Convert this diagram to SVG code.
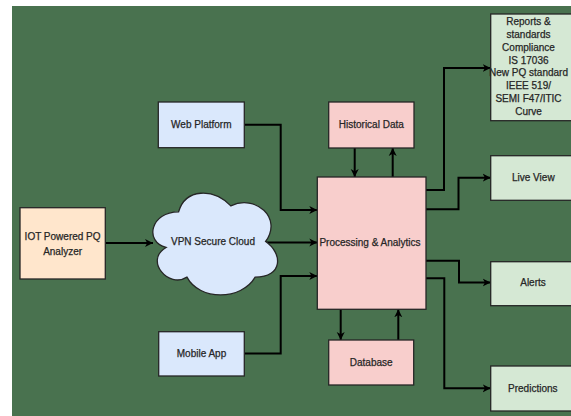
<svg xmlns="http://www.w3.org/2000/svg" width="571" height="416" viewBox="0 0 571 416">
  <style>
    .box { stroke: #262626; stroke-width: 1.3; }
    .blue { fill: #dae8fc; }
    .peach { fill: #ffe6cc; }
    .pink { fill: #f8cecc; }
    .green { fill: #d5e8d4; }
    .lbl { font-family: "Liberation Sans", Arial, sans-serif; font-size: 10px; fill: #262626; stroke: #262626; stroke-width: 0.25; text-anchor: middle; }
    .wire { fill: none; stroke: #000; stroke-width: 2; }
  </style>
  <defs>
    <marker id="arrow" markerUnits="userSpaceOnUse" markerWidth="9" markerHeight="9" refX="8" refY="4.5" orient="auto">
      <path d="M0,0.5 L8,4.5 L0,8.5 L2.2,4.5 Z" fill="#000"/>
    </marker>
  </defs>

  <!-- canvas -->
  <rect x="0" y="0" width="571" height="416" fill="#ffffff"/>
  <rect x="12" y="6" width="559" height="410" fill="#49724f"/>

  <!-- connectors -->
  <g id="connectors">
    <path class="wire" d="M105.3,243 L153,243" marker-end="url(#arrow)"/>
    <path class="wire" d="M265.6,242.5 L317.3,242.5" marker-end="url(#arrow)"/>
    <path class="wire" d="M244.3,124.7 L280.7,124.7 L280.7,210 L317.3,210" marker-end="url(#arrow)"/>
    <path class="wire" d="M244.3,353.5 L280.7,353.5 L280.7,276 L317.3,276" marker-end="url(#arrow)"/>
    <path class="wire" d="M354.7,148 L354.7,177" marker-end="url(#arrow)"/>
    <path class="wire" d="M392.7,177 L392.7,148" marker-end="url(#arrow)"/>
    <path class="wire" d="M340.7,309.3 L340.7,340" marker-end="url(#arrow)"/>
    <path class="wire" d="M398.3,340 L398.3,309.3" marker-end="url(#arrow)"/>
    <path class="wire" d="M426,190 L444,190 L444,68 L490.7,68" marker-end="url(#arrow)"/>
    <path class="wire" d="M426,209.3 L458.5,209.3 L458.5,177.7 L490.7,177.7" marker-end="url(#arrow)"/>
    <path class="wire" d="M426,260.7 L459,260.7 L459,282.5 L490.7,282.5" marker-end="url(#arrow)"/>
    <path class="wire" d="M426,278.3 L444.3,278.3 L444.3,388.3 L490.7,388.3" marker-end="url(#arrow)"/>
  </g>

  <!-- sources -->
  <g id="iot-analyzer">
    <rect class="box peach" x="20" y="207.7" width="85.3" height="71.3"/>
    <text class="lbl" x="62.6" y="240.2">IOT Powered PQ</text>
    <text class="lbl" x="62.6" y="254.5">Analyzer</text>
  </g>
  <g id="vpn-cloud">
    <path class="box blue" d="M178.6,211.8 C150.76,211.8 143.8,241.5 166.07,247.44 C143.8,260.51 168.86,289.02 186.95,277.14 C199.48,300.9 241.24,300.9 255.16,277.14 C283,277.14 283,253.38 265.6,241.5 C283,217.74 255.16,193.98 230.8,205.86 C213.4,188.04 185.56,188.04 178.6,211.8 Z"/>
    <text class="lbl" x="213" y="245.2">VPN Secure Cloud</text>
  </g>
  <g id="web-platform">
    <rect class="box blue" x="158.3" y="102" width="86" height="45.7"/>
    <text class="lbl" x="201.3" y="128">Web Platform</text>
  </g>
  <g id="mobile-app">
    <rect class="box blue" x="158.7" y="331.7" width="85.6" height="44.3"/>
    <text class="lbl" x="201.5" y="357.3">Mobile App</text>
  </g>

  <!-- core -->
  <g id="historical-data">
    <rect class="box pink" x="328.7" y="102" width="85.3" height="46"/>
    <text class="lbl" x="371.3" y="128">Historical Data</text>
  </g>
  <g id="processing">
    <rect class="box pink" x="317.3" y="177" width="108.7" height="132.3"/>
    <text class="lbl" x="370" y="245.8">Processing &amp; Analytics</text>
  </g>
  <g id="database">
    <rect class="box pink" x="328.7" y="340" width="85" height="45"/>
    <text class="lbl" x="371.2" y="365.5">Database</text>
  </g>

  <!-- outputs -->
  <g id="reports">
    <rect class="box green" x="490.7" y="14" width="90" height="106.7"/>
    <text class="lbl" x="528.5" y="25.2">Reports &amp;</text>
    <text class="lbl" x="528.5" y="38">standards</text>
    <text class="lbl" x="528.5" y="50.8">Compliance</text>
    <text class="lbl" x="528.5" y="63.6">IS 17036</text>
    <text class="lbl" x="528.5" y="76.4">New PQ standard</text>
    <text class="lbl" x="528.5" y="89.2">IEEE 519/</text>
    <text class="lbl" x="528.5" y="102">SEMI F47/ITIC</text>
    <text class="lbl" x="528.5" y="114.8">Curve</text>
  </g>
  <g id="live-view">
    <rect class="box green" x="490.7" y="155.7" width="90" height="44.6"/>
    <text class="lbl" x="533.3" y="181">Live View</text>
  </g>
  <g id="alerts">
    <rect class="box green" x="490.7" y="261.7" width="90" height="44"/>
    <text class="lbl" x="533" y="286.3">Alerts</text>
  </g>
  <g id="predictions">
    <rect class="box green" x="490.7" y="366" width="90" height="45"/>
    <text class="lbl" x="532.8" y="391.7">Predictions</text>
  </g>
</svg>
